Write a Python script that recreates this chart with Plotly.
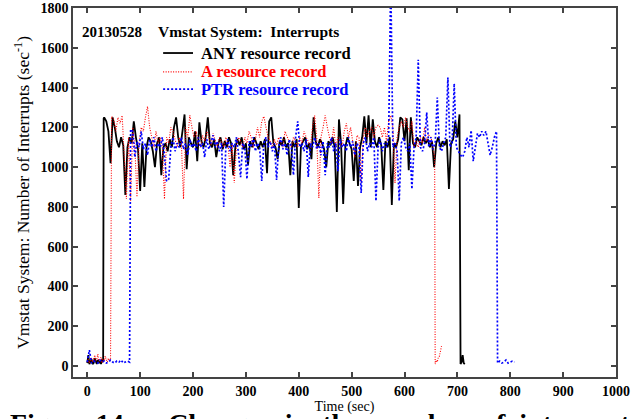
import plotly.graph_objects as go

# ---------------- data ----------------
any_t = list(range(0, 31, 2)) + [31] + list(range(32, 705, 4)) + [706, 708, 710, 712, 714]
any_v = [15, 55, 10, 20, 35, 10, 15, 40, 20, 10, 30, 15, 25, 10, 35, 20,
         1245,
         1250, 1230, 1180, 1020, 1250, 1200, 1130, 1100, 1150, 1110,
         860, 1100, 1150, 1120, 1230, 1150, 1090, 880, 1120, 900,
         1100, 1150, 1130, 1080, 1000, 1120, 1150, 960, 1100, 1120,
         1080, 1140, 1100, 1200, 1250, 1150, 1100, 1180, 1265, 990,
         1150, 1120, 1100, 1180, 1030, 1225, 1130, 1100, 1150, 1250,
         1120, 1100, 1140, 1050, 1120, 1150, 1090, 1130, 1100, 1150,
         1120, 960, 1100, 1140, 1110, 1150, 1090, 1120, 1010, 1130,
         1100, 1150, 1120, 1090, 1130, 1100, 1140, 970, 1230, 1250,
         1120, 1100, 1040, 1130, 1110, 1150, 1100, 1120, 960, 1130,
         1100, 1140, 795, 1100, 1130, 1150, 1090, 1120, 1040, 1250,
         1130, 1100, 1140, 1120, 1090, 1000, 1130, 1110, 1150, 1100,
         775, 1240, 1120, 815, 1100, 1150, 1120, 1090, 930, 1130,
         905, 1100, 1150, 1255, 1120, 1260, 1100, 1240, 1130, 1100,
         1150, 1110, 885, 1130, 1100, 1150, 810, 1120, 1100, 1140,
         1250, 1240, 1130, 1245, 985, 1250, 1120, 1100, 1150, 1130,
         1110, 1150, 1120, 1140, 1100, 1130, 1000, 1120, 1150, 1100,
         1130, 1110, 1140, 890, 1120, 1140, 1230, 1150, 1265,
         10, 20, 55, 15, 10]

a_t = list(range(0, 45, 2)) + list(range(46, 655, 4)) + [657, 658, 660, 662, 664, 666, 668, 670]
a_v = [20, 35, 15, 25, 40, 20, 30, 55, 25, 35, 60, 20, 30, 45, 15, 35, 25, 50, 30, 20, 40, 25, 30,
       1255, 1240, 1180, 1250, 1220, 1260, 1050, 840, 1150, 830,
       1200, 1100, 850, 1120, 1200, 1180, 1250, 1305, 1200, 1150,
       1100, 1180, 1120, 1150, 1100, 840, 1150, 1120, 1200, 1180,
       1140, 1100, 1150, 1120, 840, 1200, 1150, 1260, 1200, 1150,
       1180, 1120, 1100, 1160, 1130, 1180, 1150, 1110, 1170, 1140,
       1100, 1150, 1130, 1100, 1150, 1120, 1000, 1120, 920, 1100,
       1150, 1130, 1100, 1150, 1120, 1180, 1150, 1100, 1140, 1200,
       1150, 1230, 1255, 1200, 1150, 1130, 1100, 1140, 1110, 1150,
       1120, 1100, 1180, 1150, 1120, 1100, 1150, 1130, 1100, 1150,
       1120, 1180, 1150, 1130, 1100, 1200, 1260, 1150, 845, 1150,
       1200, 1260, 1200, 1150, 1120, 1200, 1100, 1150, 1130, 1100,
       1180, 1220, 1150, 1200, 1130, 1050, 1160, 1150, 920, 1150,
       1200, 1150, 1180, 1200, 1150, 1200, 1210, 1200, 1150, 1200,
       1130, 1230, 1260, 1200, 920, 1150, 1200, 1230, 1200, 1250,
       1200, 1180, 1230, 1100, 1130, 1100, 1150, 1120, 1200, 1130,
       1160, 1150, 1100,
       1050, 10, 30, 20, 45, 50, 70, 100]

ptr_t = list(range(0, 81, 4)) + list(range(82, 775, 4)) + list(range(776, 809, 4))
ptr_v = [20, 80, 15, 25, 20, 15, 30, 20, 25, 15, 20, 30, 20, 15, 25, 20, 30, 15, 20, 25, 20,
         1190, 1180, 1050, 1130, 1100, 1180, 1090, 1120, 1060, 1140,
         1100, 1150, 1080, 1120, 1100, 1150, 1060, 930, 940, 1100,
         1150, 1080, 1120, 1100, 1150, 1090, 1120, 1060, 1140, 1100,
         1120, 1080, 1150, 1100, 1120, 1050, 1140, 1090, 1120, 1160,
         1100, 1130, 1080, 1120, 800, 1100, 1140, 1080, 1120, 1100,
         1150, 1070, 950, 1120, 1100, 940, 1130, 1100, 1150, 1080,
         1120, 1100, 930, 1120, 1150, 1100, 1130, 1080, 1120, 935,
         1100, 1150, 1090, 1120, 1060, 1140, 1100, 960, 1150, 1230,
         1100, 1120, 1080, 1140, 950, 1120, 1100, 1150, 1090, 1120,
         1060, 1130, 960, 1120, 1100, 1150, 1080, 1120, 980, 1140,
         1100, 1120, 1080, 1150, 1100, 1130, 1060, 1120, 1100, 870,
         1120, 1150, 1080, 1120, 1100, 1150, 830, 1100, 1140, 1080,
         1120, 1100, 1150, 1950, 1100, 1120, 1080, 830, 1120, 1150,
         1100, 1080, 1120, 890, 1100, 1150, 1540, 1100, 1080, 1120,
         1275, 1100, 1150, 1090, 1120, 1350, 1100, 1080, 1120, 1150,
         1450, 1100, 1120, 1420, 1100, 1080, 1060, 1050, 1080, 1150,
         1100, 1185, 1030, 1100, 1170, 1150, 1180, 1160, 1180, 1120,
         1060, 1100, 1150, 1180,
         15, 25, 15, 20, 30, 15, 20, 25, 20]

series_names = ["ANY resource record", "A resource record", "PTR resource record"]
series_colors = ["#000000", "#ff0000", "#0000ff"]
x_ticks = [0, 100, 200, 300, 400, 500, 600, 700, 800, 900, 1000]
y_ticks = [0, 200, 400, 600, 800, 1000, 1200, 1400, 1600, 1800]

FONT = "Liberation Serif, Times New Roman, serif"
line_styles = [dict(width=1.8, dash="solid"),
               dict(width=1.1, dash="1px,1.5px"),
               dict(width=1.7, dash="2px,2px")]

fig = go.Figure()
for t, v, name, col, ls in zip([any_t, a_t, ptr_t], [any_v, a_v, ptr_v],
                               series_names, series_colors, line_styles):
    fig.add_trace(go.Scatter(x=t, y=v, mode="lines", name=name, showlegend=False,
                             line=dict(color=col, **ls)))

axis_common = dict(showline=True, mirror="ticks", linecolor="#444", linewidth=1.5,
                   ticks="inside", ticklen=5, tickcolor="#444", tickwidth=1.5,
                   showgrid=False, zeroline=False, automargin=False,
                   tickfont=dict(family=FONT, size=14, color="black", weight="bold"))

fig.update_xaxes(range=[-27, 1000], tickvals=x_ticks,
                 title=dict(text="Time (sec)", font=dict(family=FONT, size=14, color="black"),
                            standoff=2),
                 **axis_common)
fig.update_yaxes(range=[-55, 1800], tickvals=y_ticks,
                 title=dict(text="Vmstat System: Number of Interrupts (sec<sup>-1</sup>)",
                            font=dict(family=FONT, size=17.5, color="black"), standoff=6),
                 **axis_common)

fig.add_annotation(text="20130528", xref="paper", yref="paper", x=0.012, y=0.935,
                   xanchor="left", yanchor="middle", showarrow=False,
                   font=dict(family=FONT, size=15, color="black", weight="bold"))
fig.add_annotation(text="Vmstat System:  Interrupts", xref="paper", yref="paper", x=0.153, y=0.935,
                   xanchor="left", yanchor="middle", showarrow=False,
                   font=dict(family=FONT, size=15.5, color="black", weight="bold"))

# hand-made legend
leg_y = [0.878, 0.827, 0.780]
for yy, name, col, ls in zip(leg_y, series_names, series_colors, line_styles):
    fig.add_shape(type="line", xref="paper", yref="paper", x0=0.166, x1=0.221, y0=yy, y1=yy,
                  line=dict(color=col, **ls))
    fig.add_annotation(text=name, xref="paper", yref="paper", x=0.232, y=yy,
                       xanchor="left", yanchor="middle", showarrow=False,
                       font=dict(family=FONT, size=16.5, color=col, weight="bold"))

fig.add_annotation(text="Figure 14a:   Changes  in  the  number  of  interrupts",
                   xref="paper", yref="paper", x=-0.12, y=-0.079,
                   xanchor="left", yanchor="top", showarrow=False,
                   font=dict(family=FONT, size=28, color="black", weight="bold"))

fig.update_layout(
    width=642, height=419,
    margin=dict(l=73, r=26, t=8, b=42),
    paper_bgcolor="white", plot_bgcolor="white",
    showlegend=False,
)

fig.write_html("out.html", config={"displayModeBar": False},
               post_script="document.body.style.margin='0px';")
